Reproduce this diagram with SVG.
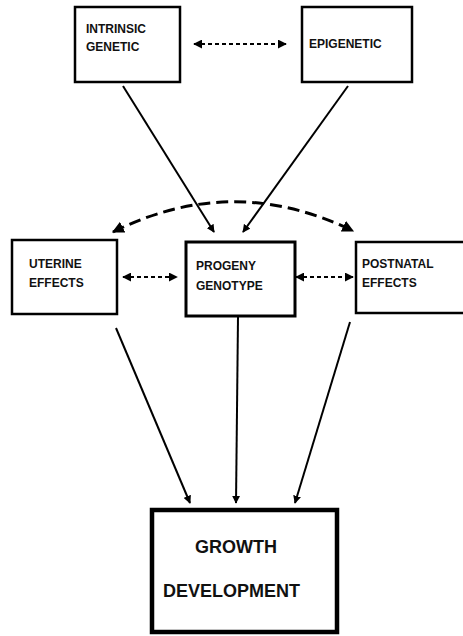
<svg xmlns="http://www.w3.org/2000/svg" width="463" height="636" viewBox="0 0 463 636">
<defs>
<marker id="ah" viewBox="0 0 10 10" refX="9" refY="5" markerWidth="4" markerHeight="4" orient="auto-start-reverse" markerUnits="strokeWidth">
<path d="M0,0 L10,5 L0,10 z" fill="#000"/>
</marker>
<marker id="as" viewBox="0 0 10 10" refX="9" refY="5" markerWidth="5" markerHeight="5" orient="auto-start-reverse" markerUnits="strokeWidth">
<path d="M0,0 L10,5 L0,10 z" fill="#000"/>
</marker>
<style>
.box{fill:#fff;stroke:#000;stroke-width:2.5}
.t{font-family:"Liberation Sans",Arial,sans-serif;font-weight:bold;font-size:12px;fill:#111}
.big{font-size:18px}
.ln{fill:none;stroke:#000;stroke-width:2}
.dash{fill:none;stroke:#000;stroke-width:1.8;stroke-dasharray:4 3}
.arc{fill:none;stroke:#000;stroke-width:3;stroke-dasharray:12 6}
</style>
</defs>
<rect width="463" height="636" fill="#fff"/>
<g id="connectors">
<line class="dash" x1="194" y1="44" x2="286" y2="44" marker-start="url(#as)" marker-end="url(#as)"/>
<line class="ln" x1="123" y1="86" x2="214" y2="232" marker-end="url(#ah)"/>
<line class="ln" x1="348" y1="86" x2="243" y2="232" marker-end="url(#ah)"/>
<path class="arc" d="M113,232 Q233,172 353,231" marker-start="url(#ah)" marker-end="url(#ah)"/>
<line class="dash" x1="123" y1="277" x2="177" y2="277" marker-start="url(#as)" marker-end="url(#as)"/>
<line class="dash" x1="296" y1="277" x2="353" y2="277" marker-start="url(#as)" marker-end="url(#as)"/>
<line class="ln" x1="116" y1="328" x2="190" y2="503" marker-end="url(#ah)"/>
<line class="ln" x1="238" y1="317" x2="236" y2="503" marker-end="url(#ah)"/>
<line class="ln" x1="350" y1="322" x2="295" y2="503" marker-end="url(#ah)"/>
</g>
<g id="intrinsic">
<rect class="box" x="75" y="7" width="105" height="75"/>
<text class="t" x="86" y="33">INTRINSIC</text>
<text class="t" x="86" y="51">GENETIC</text>
</g>
<g id="epigenetic">
<rect class="box" x="302" y="7" width="110" height="75"/>
<text class="t" x="309" y="48">EPIGENETIC</text>
</g>
<g id="uterine">
<rect class="box" x="12" y="240" width="105" height="74"/>
<text class="t" x="29" y="268">UTERINE</text>
<text class="t" x="29" y="287">EFFECTS</text>
</g>
<g id="progeny">
<rect class="box" x="186" y="242" width="109" height="74" style="stroke-width:3"/>
<text class="t" x="196" y="270">PROGENY</text>
<text class="t" x="196" y="290">GENOTYPE</text>
</g>
<g id="postnatal">
<rect class="box" x="356" y="242" width="112" height="71"/>
<text class="t" x="362" y="268">POSTNATAL</text>
<text class="t" x="362" y="287">EFFECTS</text>
</g>
<g id="growth">
<rect class="box" x="152" y="510" width="185" height="122" style="stroke-width:4.5"/>
<text class="t big" x="195" y="553">GROWTH</text>
<text class="t big" x="163" y="597">DEVELOPMENT</text>
</g>
</svg>
